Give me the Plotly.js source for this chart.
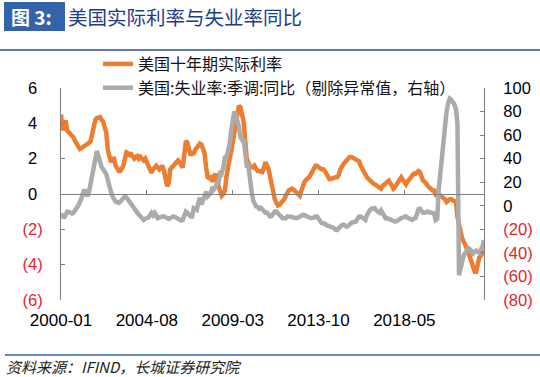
<!DOCTYPE html>
<html>
<head>
<meta charset="utf-8">
<script src="https://cdn.plot.ly/plotly-3.0.1.min.js"></script>
<style>
  html, body { margin: 0; padding: 0; background: #fff; }
  #chart { width: 540px; height: 377px; }
</style>
</head>
<body>
<div id="chart"></div>
<script>
// ---- Data (monthly, 2000-01 .. 2022-08) ----
const startYear = 2000;
const endYear = 2022;
const endMonth = 8;

// 美国十年期实际利率 (%), left axis
const real2000 = [4.5, 3.6, 4.0, 4.15, 3.6, 3.5, 3.4, 3.3, 3.2, 3.0, 2.8, 2.6];
const real2001 = [2.55, 2.6, 2.65, 2.7, 2.75, 2.8, 2.9, 3.0, 3.5, 3.9, 4.2, 4.3];
const real2002 = [4.3, 4.35, 4.2, 4.1, 3.8, 3.5, 2.5, 2.2, 1.8, 2.0, 2.0, 1.6];
const real2003 = [1.4, 1.3, 1.3, 1.5, 1.6, 2.0, 2.35, 2.3, 2.2, 2.25, 2.1, 2.0];
const real2004 = [2.1, 2.15, 2.0, 2.1, 2.0, 1.9, 2.0, 1.8, 1.7, 1.5, 1.2, 1.4];
const real2005 = [1.5, 1.6, 1.5, 1.4, 1.5, 1.6, 1.3, 0.8, 0.45, 0.6, 1.4, 1.5];
const real2006 = [1.6, 1.7, 1.8, 1.9, 1.8, 1.6, 1.5, 2.2, 3.0, 2.9, 2.5, 2.2];
const real2007 = [2.3, 2.3, 2.5, 2.65, 2.75, 2.85, 2.8, 2.5, 2.3, 1.5, 0.95, 0.9];
const real2008 = [0.95, 0.7, 0.9, 1.15, 0.7, 0.45, 0.3, -0.1, 0.0, 0.2, 1.0, 1.7];
const real2009 = [2.0, 2.4, 2.9, 3.4, 3.8, 4.5, 5.0, 4.9, 4.6, 4.1, 3.0, 2.0];
const real2010 = [1.8, 1.5, 1.55, 1.5, 1.6, 1.45, 1.3, 1.3, 1.25, 1.25, 1.5, 1.8];
const real2011 = [1.6, 1.4, 1.0, 0.5, -0.1, -0.3, -0.5, -0.65, -0.6, -0.5, -0.45, -0.3];
const real2012 = [-0.1, 0.1, 0.2, 0.25, 0.3, 0.25, 0.15, 0.1, 0.0, -0.1, 0.2, 0.5];
const real2013 = [0.7, 0.8, 0.85, 0.95, 1.1, 1.3, 1.5, 1.6, 1.6, 1.5, 1.45, 1.4];
const real2014 = [1.4, 1.3, 1.15, 1.0, 0.85, 0.85, 0.9, 0.9, 0.95, 0.95, 1.1, 1.4];
const real2015 = [1.6, 1.7, 1.8, 1.9, 2.0, 2.1, 2.1, 2.05, 2.0, 2.0, 1.9, 1.85];
const real2016 = [1.6, 1.4, 1.3, 1.1, 0.95, 0.85, 0.75, 0.65, 0.6, 0.55, 0.5, 0.45];
const real2017 = [0.35, 0.3, 0.45, 0.55, 0.6, 0.7, 0.75, 0.6, 0.45, 0.3, 0.4, 0.55];
const real2018 = [0.7, 0.85, 0.95, 0.8, 0.6, 0.55, 0.7, 0.8, 0.95, 1.0, 1.15, 1.15];
const real2019 = [1.2, 1.3, 1.25, 0.95, 0.75, 0.7, 0.55, 0.4, 0.35, 0.3, 0.2, 0.2];
const real2020 = [0.0, 0.1, -0.05, -0.1, -0.15, -0.2, -0.3, -0.45, -0.35, -0.3, -0.3, -0.35];
const real2021 = [-0.4, -0.45, -1.3, -1.8, -2.3, -2.5, -2.7, -2.85, -3.1, -3.3, -3.6, -4.0];
const real2022 = [-4.2, -4.4, -4.4, -3.8, -3.6, -3.5, -3.3, -3.3];

// 美国:失业率:季调:同比 (%), right axis
const unemp2000 = [-7.7, -8, -10.5, -7, -4.9, -5, -6, -6.5, -6, -3, -1.7, 0];
const unemp2001 = [2.5, 6, 10, 13.7, 11, 8, 12, 19.7, 27, 33.7, 40, 46.5];
const unemp2002 = [42, 36, 33, 31, 29, 27, 22, 15, 12, 8, 5, 3.7];
const unemp2003 = [3, 2.5, 3.5, 5, 6, 8, 7, 5, 3, 1, -1.7, -3];
const unemp2004 = [-4.9, -6, -7.7, -9, -10, -12, -11, -10.5, -10, -8, -6, -8];
const unemp2005 = [-6, -8, -10.5, -10, -9, -9, -9, -10, -10.5, -11, -10.5, -9.5];
const unemp2006 = [-9, -9.5, -10, -10.5, -12, -12.5, -12, -8, -5, -6, -8, -9];
const unemp2007 = [-9, -2, -2.5, -3.4, 2, 6.9, 1, 4, 7, 12, 8, 9.4];
const unemp2008 = [11, 16, 14, 16, 19.7, 20, 29.4, 28, 32.6, 41, 42, 46.5];
const unemp2009 = [52, 64, 70, 80, 77, 72, 67, 58, 56, 57, 45, 34];
const unemp2010 = [34, 19.7, 13.7, 5, 2, -0.6, -1, -2.5, -1.7, -3.4, -4, -6];
const unemp2011 = [-6, -7, -9, -8.5, -6, -4.9, -4.9, -7, -8, -9, -10.5, -10.5];
const unemp2012 = [-10.5, -9, -9, -9, -9.5, -10, -10.5, -10.5, -10, -9, -8, -7.7];
const unemp2013 = [-8, -9, -9, -10, -10.5, -10.5, -10, -9, -9, -11, -13, -14.6];
const unemp2014 = [-15, -15, -16.3, -17, -17, -17.7, -18, -19, -20.5, -20.5, -19, -17];
const unemp2015 = [-16.3, -16, -17, -17.7, -17, -15.5, -14.6, -14, -13.5, -13.4, -11, -9];
const unemp2016 = [-9, -10, -11, -12, -8, -5, -3.4, -2.5, -1.7, -2, -4, -5];
const unemp2017 = [-6, -4, -6, -8, -10.5, -10.5, -11, -12, -13, -13.4, -13.4, -13];
const unemp2018 = [-12, -10.5, -10.5, -10, -9.5, -9, -10, -11, -12, -12, -11, -10.5];
const unemp2019 = [-7, -3, -2.5, -4, -6, -6, -5, -4.9, -5.5, -6, -6, -6.5];
const unemp2020 = [-12, -11, 14, 28, 45, 55, 68, 80, 87, 91, 90, 88];
const unemp2021 = [86, 82, 70, -59, -52, -45, -42, -40, -38, -36, -37, -39];
const unemp2022 = [-40.5, -39, -38, -39, -40, -37, -35, -29];

const realRate = [].concat(real2000, real2001, real2002, real2003, real2004, real2005,
  real2006, real2007, real2008, real2009, real2010, real2011, real2012, real2013,
  real2014, real2015, real2016, real2017, real2018, real2019, real2020, real2021, real2022);
const unempYoY = [].concat(unemp2000, unemp2001, unemp2002, unemp2003, unemp2004, unemp2005,
  unemp2006, unemp2007, unemp2008, unemp2009, unemp2010, unemp2011, unemp2012, unemp2013,
  unemp2014, unemp2015, unemp2016, unemp2017, unemp2018, unemp2019, unemp2020, unemp2021, unemp2022);

const months = [];
for (let y = startYear; y <= endYear; y++) {
  for (let m = 1; m <= 12; m++) {
    if (y === endYear && m > endMonth) break;
    months.push(y + '-' + String(m).padStart(2, '0') + '-01');
  }
}

// Tick labels
const xTickVals = ['2000-01-01', '2004-08-01', '2009-03-01', '2013-10-01', '2018-05-01'];
const xTickText = ['2000-01', '2004-08', '2009-03', '2013-10', '2018-05'];
const leftTickVals = [-6, -4, -2, 0, 2, 4, 6];
const leftTickText = ['(6)', '(4)', '(2)', '0', '2', '4', '6'];
const rightTickVals = [-80, -60, -40, -20, 0, 20, 40, 60, 80, 100];
const rightTickText = ['(80)', '(60)', '(40)', '(20)', '0', '20', '40', '60', '80', '100'];

const seriesNames = ['美国十年期实际利率', '美国:失业率:季调:同比（剔除异常值，右轴）'];
const titleLabel = '图 3:';
const titleText = '美国实际利率与失业率同比';
const sourceText = '资料来源：IFIND，长城证券研究院';

// ---- Layout helpers ----
const W = 540, H = 377;
const ML = 61, MR = 56, MT = 88, MB = 77;
const PW = W - ML - MR, PH = H - MT - MB;
const px = v => (v - ML) / PW;
const py = v => (H - MB - v) / PH;

const RED = '#e0262d';
const styleLeft = t => t.startsWith('(')
  ? '<span style="color:' + RED + '">' + t + '</span>'
  : t + '<span style="color:rgba(0,0,0,0)">)</span>';
const styleRight = t => t.startsWith('(')
  ? '<span style="color:' + RED + '">' + t + '</span>'
  : t;

const tickFont = { family: 'Arial, "Liberation Sans", sans-serif', size: 16.5, color: '#000' };
const cjk = '"Noto Sans CJK SC", "Noto Sans", sans-serif';

const traces = [
  {
    x: months, y: realRate, name: seriesNames[0], type: 'scatter', mode: 'lines',
    line: { color: '#ED7D31', width: 4.5 }, xaxis: 'x', yaxis: 'y', hoverinfo: 'skip'
  },
  {
    x: months, y: unempYoY, name: seriesNames[1], type: 'scatter', mode: 'lines',
    line: { color: '#ABABAB', width: 4.5 }, xaxis: 'x2', yaxis: 'y2', hoverinfo: 'skip'
  }
];

const xRange = [months[0], months[months.length - 1]];

const layout = {
  width: W, height: H,
  margin: { l: ML, r: MR, t: MT, b: MB, pad: 0 },
  paper_bgcolor: '#fff', plot_bgcolor: 'rgba(0,0,0,0)',
  showlegend: true,
  legend: {
    x: px(98), y: py(47), xanchor: 'left', yanchor: 'top',
    bgcolor: 'rgba(0,0,0,0)', borderwidth: 0,
    font: { family: cjk, size: 16, color: '#111' },
    tracegroupgap: 0
  },
  xaxis: {
    type: 'date', range: xRange, anchor: 'y',
    tickmode: 'array', tickvals: xTickVals, ticktext: xTickText,
    showline: false, showgrid: false, zeroline: false, ticks: '',
    tickfont: { family: tickFont.family, size: 17, color: '#000' },
    ticklabelstandoff: 8
  },
  xaxis2: {
    type: 'date', range: xRange, overlaying: 'x', anchor: 'free', position: 0.5,
    tickmode: 'array', tickvals: xTickVals,
    showticklabels: false, showline: true, linecolor: '#7f7f7f', linewidth: 1,
    ticks: 'inside', ticklen: 4, tickcolor: '#7f7f7f', tickwidth: 1,
    showgrid: false, zeroline: false
  },
  yaxis: {
    range: [-6, 6], tickmode: 'array', tickvals: leftTickVals,
    ticktext: leftTickText.map(styleLeft),
    showline: true, linecolor: '#7f7f7f', linewidth: 1,
    ticks: 'inside', ticklen: 4, tickcolor: '#7f7f7f',
    showgrid: false, zeroline: false, tickfont: tickFont,
    ticklabelstandoff: 14
  },
  yaxis2: {
    range: [-80, 100], overlaying: 'y', side: 'right', anchor: 'free', position: 1,
    tickmode: 'array', tickvals: rightTickVals,
    ticktext: rightTickText.map(styleRight),
    showline: true, linecolor: '#7f7f7f', linewidth: 1,
    ticks: 'inside', ticklen: 4, tickcolor: '#7f7f7f',
    showgrid: false, zeroline: false, tickfont: tickFont,
    ticklabelstandoff: 15
  },
  shapes: [
    { type: 'rect', xref: 'paper', yref: 'paper', x0: px(4), x1: px(65), y0: py(31), y1: py(2),
      fillcolor: '#3563a9', line: { width: 0 }, layer: 'above' },
    { type: 'line', xref: 'paper', yref: 'paper', x0: px(0), x1: px(540), y0: py(50), y1: py(50),
      line: { color: '#2d4e8e', width: 1.5 } },
    { type: 'line', xref: 'paper', yref: 'paper', x0: px(5), x1: px(540), y0: py(355), y1: py(355),
      line: { color: '#3566ad', width: 1.5 } }
  ],
  annotations: [
    { text: '<b>' + titleLabel + '</b>', xref: 'paper', yref: 'paper', x: px(9), y: py(17),
      xanchor: 'left', yanchor: 'middle', showarrow: false,
      font: { family: cjk, size: 19, color: '#fff' } },
    { text: titleText, xref: 'paper', yref: 'paper', x: px(66), y: py(17),
      xanchor: 'left', yanchor: 'middle', showarrow: false,
      font: { family: cjk, size: 19.5, color: '#1f3c88' } },
    { text: '<i>' + sourceText + '</i>', xref: 'paper', yref: 'paper', x: px(5), y: py(366),
      xanchor: 'left', yanchor: 'middle', showarrow: false, borderpad: 0,
      font: { family: cjk, size: 15, color: '#222' } }
  ]
};

Plotly.newPlot('chart', traces, layout, { staticPlot: true, displayModeBar: false });
</script>
</body>
</html>
